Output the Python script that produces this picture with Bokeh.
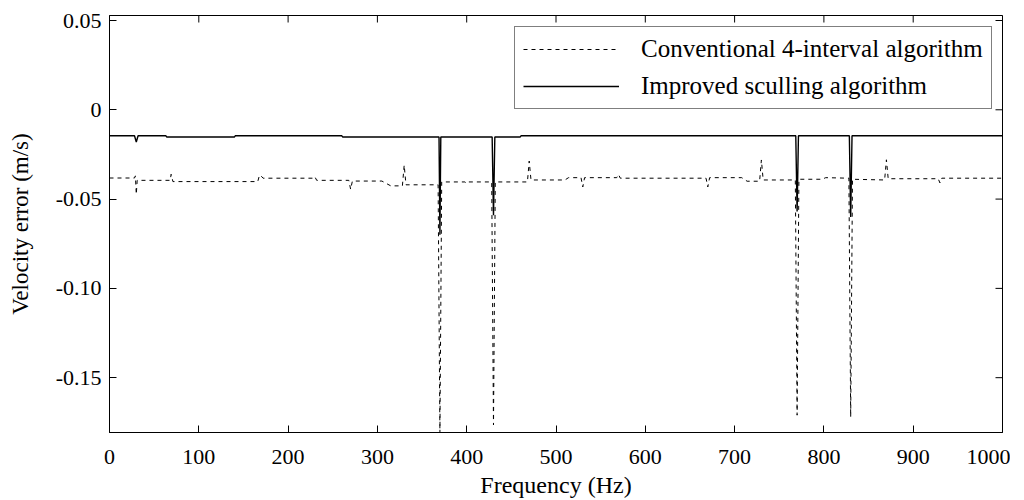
import math
from bokeh.plotting import figure
from bokeh.models import Range1d, FixedTicker, Legend, LegendItem
from bokeh.embed import file_html
from bokeh.resources import INLINE

# ---- data ----
conv_freq = [0, 28, 29, 30, 31, 68, 69, 70, 71, 166, 168, 170, 172, 228, 230, 232,
             268, 270, 272, 305, 315, 328, 330, 332, 368, 370, 372, 398, 400, 402,
             428, 430, 432, 468, 470, 472, 510, 514, 528, 530, 532, 568, 570, 572,
             668, 670, 672, 708, 714, 728, 730, 732, 768, 770, 772, 798, 802, 828,
             830, 832, 868, 870, 872, 928, 930, 932, 1000]
conv_err = [-0.0382, -0.0382, -0.0370, -0.0473, -0.0395, -0.0395, -0.0361, -0.0380,
            -0.0402, -0.0402, -0.0366, -0.0372, -0.0383, -0.0383, -0.0375, -0.0395,
            -0.0395, -0.0445, -0.0399, -0.0399, -0.0426, -0.0426, -0.0310, -0.0420,
            -0.0420, -0.1810, -0.0404, -0.0404, -0.0412, -0.0404, -0.0404, -0.1765,
            -0.0404, -0.0404, -0.0287, -0.0393, -0.0393, -0.0380, -0.0380, -0.0432,
            -0.0380, -0.0380, -0.0362, -0.0383, -0.0383, -0.0432, -0.0380, -0.0380,
            -0.0400, -0.0400, -0.0281, -0.0393, -0.0393, -0.1710, -0.0389, -0.0389,
            -0.0380, -0.0383, -0.1720, -0.0389, -0.0393, -0.0280, -0.0386, -0.0386,
            -0.0410, -0.0383, -0.0383]

impr_freq = [0, 28, 30, 32, 63, 64, 140, 141, 260, 261, 369, 370, 371, 428.5, 430,
             431.5, 460, 461, 768.5, 770, 771.5, 828.5, 830, 831.5, 1000]
impr_err = [-0.0145, -0.0145, -0.0180, -0.0145, -0.0145, -0.0152, -0.0152, -0.0145,
            -0.0145, -0.0152, -0.0152, -0.0700, -0.0152, -0.0152, -0.0590, -0.0152,
            -0.0152, -0.0145, -0.0145, -0.0570, -0.0145, -0.0145, -0.0600, -0.0145,
            -0.0145]

x_ticks = [0, 100, 200, 300, 400, 500, 600, 700, 800, 900, 1000]
y_ticks = [0.05, 0, -0.05, -0.10, -0.15]
y_tick_labels = ["0.05", "0", "-0.05", "-0.10", "-0.15"]

series_labels = ["Conventional 4-interval algorithm", "Improved sculling algorithm"]

X_MIN, X_MAX = 0, 1000
Y_MIN, Y_MAX = -0.1807, 0.0528

FONT = "'Liberation Serif', 'Times New Roman', Times, serif"

p = figure(width=1010, height=500, output_backend="svg", toolbar_location=None,
           x_range=Range1d(X_MIN, X_MAX), y_range=Range1d(Y_MIN, Y_MAX),
           min_border_left=109, min_border_right=8, min_border_top=15,
           min_border_bottom=68)

p.xgrid.visible = False
p.ygrid.visible = False
p.outline_line_color = "black"
p.outline_line_width = 1
p.background_fill_color = "white"
p.border_fill_color = "white"

p.xaxis.ticker = FixedTicker(ticks=x_ticks)
p.yaxis.ticker = FixedTicker(ticks=y_ticks)
p.yaxis.major_label_overrides = {t: s for t, s in zip(y_ticks, y_tick_labels)}
p.xaxis.axis_label = "Frequency (Hz)"
p.yaxis.axis_label = "Velocity error (m/s)"

for ax in [p.xaxis[0], p.yaxis[0]]:
    ax.major_tick_in = 7
    ax.major_tick_out = 0
    ax.minor_tick_in = 0
    ax.minor_tick_out = 0
    ax.axis_line_color = "black"
    ax.major_tick_line_color = "black"
    ax.major_label_text_font = FONT
    ax.major_label_text_font_size = "22px"
    ax.major_label_text_color = "black"
    ax.axis_label_text_font = FONT
    ax.axis_label_text_font_style = "normal"
    ax.axis_label_text_color = "black"

p.xaxis.major_label_standoff = 17
p.xaxis.axis_label_standoff = 5
p.xaxis.axis_label_text_font_size = "24px"
p.yaxis.major_label_standoff = 8
p.yaxis.axis_label_standoff = 20
p.yaxis.axis_label_text_font_size = "23px"

# mirrored inward ticks on the top and right edges (half of each dash is clipped by the frame)
p.scatter(x=x_ticks, y=[Y_MAX] * len(x_ticks), marker="dash", size=14,
          angle=math.pi / 2, line_color="black", line_width=1)
p.scatter(x=[X_MAX] * len(y_ticks), y=y_ticks, marker="dash", size=14,
          line_color="black", line_width=1)

r1 = p.line(conv_freq, conv_err, line_color="black", line_width=1, line_dash="4 4")
r2 = p.line(impr_freq, impr_err, line_color="black", line_width=1.4)

legend = Legend(items=[LegendItem(label=series_labels[0], renderers=[r1]),
                       LegendItem(label=series_labels[1], renderers=[r2])],
                location=(405, 323),
                label_text_font=FONT, label_text_font_size="25px",
                label_text_color="black",
                glyph_width=96, glyph_height=24, label_height=24,
                label_standoff=22, padding=8, spacing=9, margin=0,
                border_line_color="black", border_line_width=1,
                background_fill_color="white", background_fill_alpha=1)
p.add_layout(legend)

open("out.html", "w").write(file_html(p, INLINE))
